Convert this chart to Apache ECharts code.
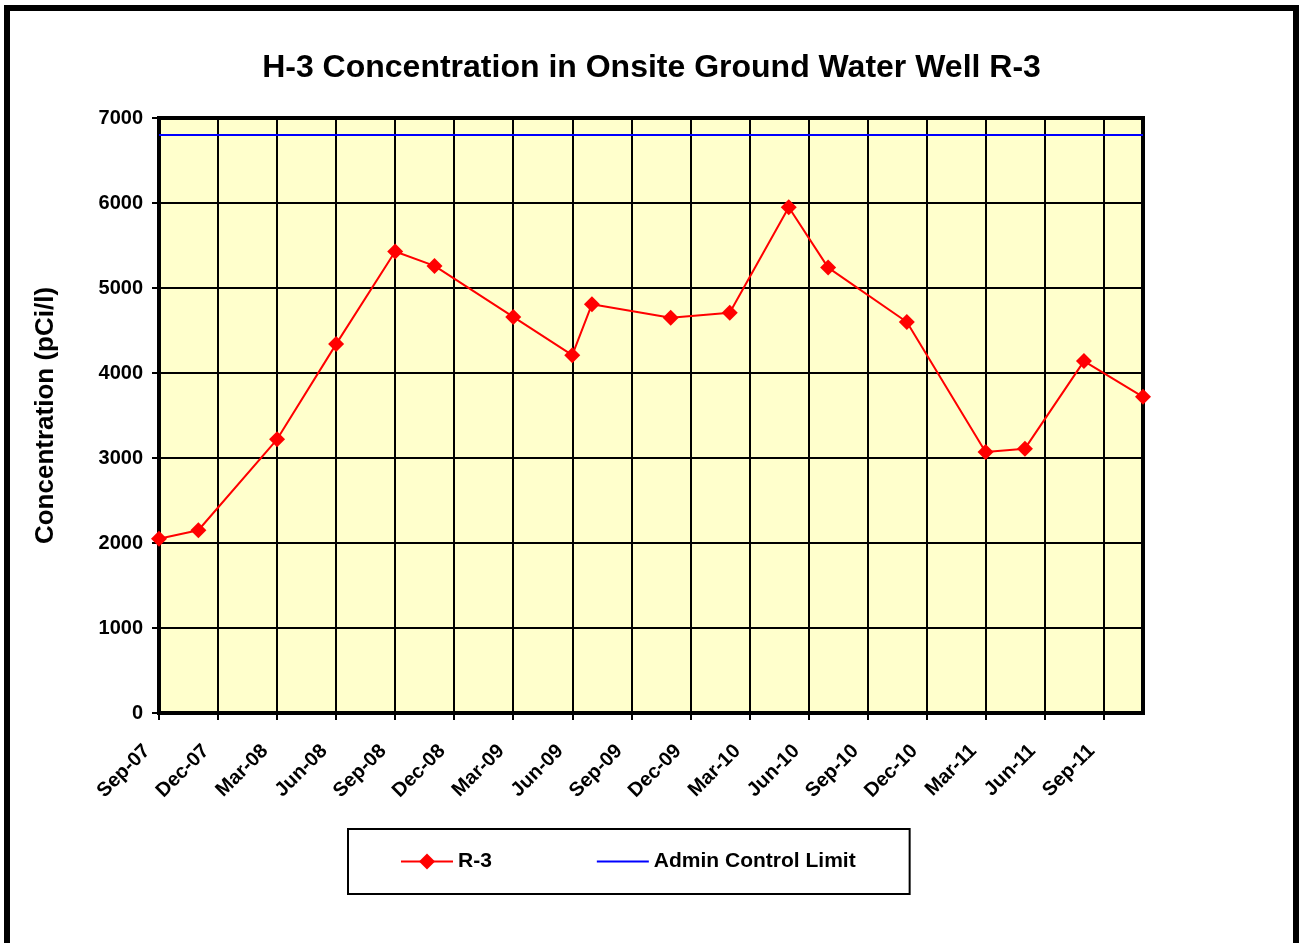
<!DOCTYPE html>
<html>
<head>
<meta charset="utf-8">
<title>H-3 Concentration R-3</title>
<script src="https://cdn.jsdelivr.net/npm/echarts@6/dist/echarts.min.js"></script>
<style>
    html, body { margin: 0; padding: 0; background: #fff; }
    #main { width: 1303px; height: 943px; }
</style>
</head>
<body>
<div id="main"></div>
<script>
// sample dates (year-month) and H-3 results, pCi/l
var sampleDates = ['2007-09', '2007-11', '2008-03', '2008-06', '2008-09', '2008-11',
    '2009-03', '2009-06', '2009-07', '2009-11', '2010-02', '2010-05', '2010-07',
    '2010-11', '2011-03', '2011-05', '2011-08', '2011-11'];
var r3Values = [2050, 2150, 3220, 4340, 5430, 5260, 4660, 4210, 4810, 4650, 4710,
    5950, 5240, 4600, 3070, 3110, 4140, 3720];
var adminLimit = [6800, 6800];

// quarter tick labels, one every 3 months from Sep-07
var tickLabels = ['Sep-07', 'Dec-07', 'Mar-08', 'Jun-08', 'Sep-08', 'Dec-08', 'Mar-09',
    'Jun-09', 'Sep-09', 'Dec-09', 'Mar-10', 'Jun-10', 'Sep-10', 'Dec-10', 'Mar-11',
    'Jun-11', 'Sep-11'];
var startMonth = '2007-09';
var endMonth = '2011-11';

var FONT = 'Arial, "Liberation Sans", sans-serif';

// months since start of the axis
var monthIndex = function (ym) {
    var a = startMonth.split('-'), b = ym.split('-');
    return (+b[0] - +a[0]) * 12 + (+b[1] - +a[1]);
};

var r3Data = [];
for (var i = 0; i < sampleDates.length; i++) {
    r3Data.push([monthIndex(sampleDates[i]), r3Values[i]]);
}
var xMax = monthIndex(endMonth);
var limitData = [[0, adminLimit[0]], [xMax, adminLimit[1]]];

var myChart = echarts.init(document.getElementById('main'));
var option = {
    backgroundColor: '#fff',
    animation: false,
    textStyle: { fontFamily: FONT },
    graphic: [{
        type: 'rect',
        shape: { x: 7, y: 8, width: 1289, height: 1000 },
        style: { fill: 'none', stroke: '#000', lineWidth: 6 },
        silent: true
    }],
    title: {
        text: 'H-3 Concentration in Onsite Ground Water Well R-3',
        left: 'center',
        top: 47,
        textStyle: { fontFamily: FONT, fontSize: 32, fontWeight: 'bold', color: '#000' }
    },
    legend: {
        left: 348,
        top: 829,
        padding: [22, 54, 22, 52],
        borderColor: '#000',
        borderWidth: 2,
        itemWidth: 52,
        itemHeight: 20,
        itemGap: 104,
        textStyle: { fontFamily: FONT, fontSize: 21, fontWeight: 'bold', color: '#000' },
        data: [
            { name: 'R-3' },
            { name: 'Admin Control Limit', itemStyle: { opacity: 0 } }
        ]
    },
    grid: {
        left: 159,
        right: 160,
        top: 118,
        bottom: 230,
        show: true,
        backgroundColor: '#FFFFCC',
        borderColor: '#000',
        borderWidth: 4
    },
    xAxis: {
        type: 'value',
        min: 0,
        max: xMax,
        interval: 3,
        axisLine: { show: true, onZero: false, lineStyle: { color: '#000', width: 4 } },
        axisTick: { show: true, length: 7, lineStyle: { color: '#000', width: 2 } },
        splitLine: { show: true, lineStyle: { color: '#000', width: 2 } },
        axisLabel: {
            rotate: 45,
            margin: 23,
            padding: [0, 17, 0, 0],
            fontFamily: FONT,
            fontSize: 20,
            fontWeight: 'bold',
            color: '#000',
            showMaxLabel: false,
            formatter: function (v) {
                return v % 3 === 0 ? (tickLabels[v / 3] || '') : '';
            }
        }
    },
    yAxis: {
        type: 'value',
        min: 0,
        max: 7000,
        interval: 1000,
        name: 'Concentration (pCi/l)',
        nameLocation: 'middle',
        nameGap: 100,
        nameTextStyle: { fontFamily: FONT, fontSize: 26, fontWeight: 'bold', color: '#000' },
        axisLine: { show: true, lineStyle: { color: '#000', width: 4 } },
        axisTick: { show: true, length: 7, lineStyle: { color: '#000', width: 2 } },
        splitLine: { show: true, lineStyle: { color: '#000', width: 2 } },
        axisLabel: {
            margin: 16,
            fontFamily: FONT,
            fontSize: 20,
            fontWeight: 'bold',
            color: '#000',
            formatter: function (v) { return String(v); }
        }
    },
    series: [{
        name: 'R-3',
        type: 'line',
        data: r3Data,
        color: '#FF0000',
        lineStyle: { color: '#FF0000', width: 2 },
        itemStyle: { color: '#FF0000' },
        symbol: 'diamond',
        symbolSize: 16,
        z: 3
    }, {
        name: 'Admin Control Limit',
        type: 'line',
        data: limitData,
        color: '#0000FF',
        lineStyle: { color: '#0000FF', width: 2 },
        itemStyle: { color: '#0000FF' },
        symbol: 'none',
        z: 2
    }]
};
myChart.setOption(option);
</script>
</body>
</html>
